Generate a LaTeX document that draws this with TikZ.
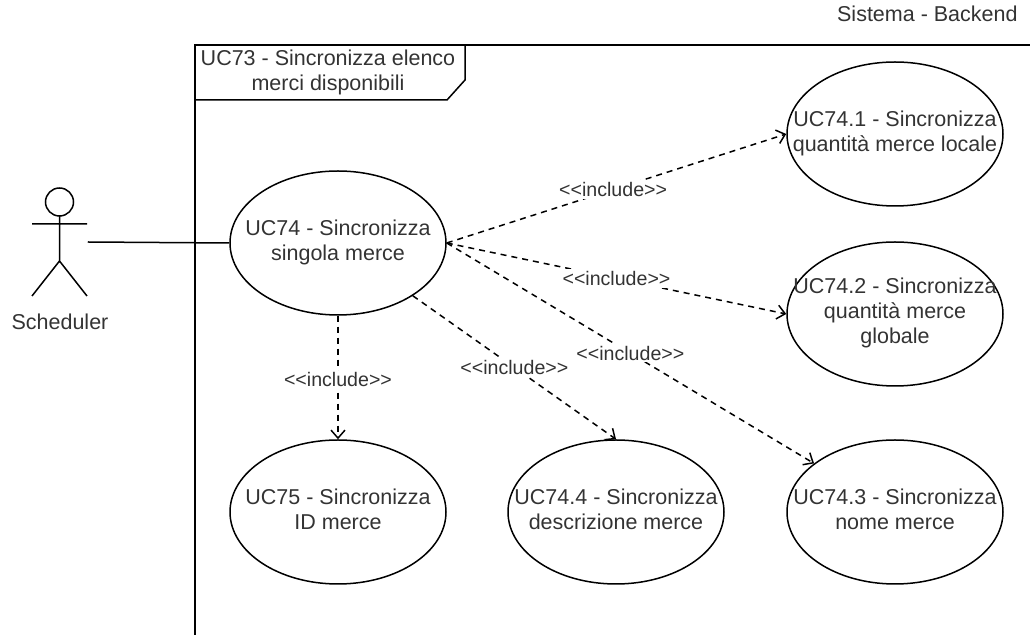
\documentclass[tikz,border=0pt]{standalone}
\usepackage{fontspec}
\setmainfont{Liberation Sans}
\usetikzlibrary{shapes.geometric, arrows.meta}

\definecolor{txtgray}{HTML}{333333}
% text that does not widen the ellipse
\newcommand{\uctext}[1]{\makebox[0pt]{\begin{tabular}{@{}c@{}}#1\end{tabular}}}
\newcommand{\incltext}{<{}<include>{}>}

\begin{document}
\begin{tikzpicture}[x=0.5pt, y=-0.5pt, line width=0.75pt,
    font=\fontsize{10.75}{12.5}\selectfont,
    usecase/.style={ellipse, draw, minimum width=108pt, minimum height=72pt,
        inner sep=0pt, text=txtgray},
    incl/.style={dashed, dash pattern=on 3pt off 2.5pt, -{Straight Barb[length=4pt, width=7pt]}},
    lbl/.style={fill=white, inner sep=1pt, text=txtgray, font=\fontsize{9.8}{11}\selectfont}]
    \useasboundingbox (0,0) rectangle (1030,635);
    \clip (0,0) rectangle (1030,635);
    % system title
    \node[anchor=east, text=txtgray] (sys) at (1025,14) {Sistema - Backend};
    % frame
    \draw (195,700) -- (195,45) -- (1040,45);
    \draw (195,100) -- (447,100) -- (465,80) -- (465,45);
    \node[align=center, text=txtgray] (frame) at (328,72) {UC73 - Sincronizza elenco\\merci disponibili};
    % actor
    \node[minimum width=27.5pt, minimum height=54pt, inner sep=0pt] (sched) at (59.5,242) {};
    \draw[shift={(sched.center)}] (0,-40) circle (7pt)
        (0,-26) -- (0,19) (-27.5,-18) -- (27.5,-18)
        (-27.5,54) -- (0,19) -- (27.5,54);
    \node[text=txtgray] (schedlbl) at (60,322) {Scheduler};
    % use cases
    \node[usecase] (uc74) at (338,243) {\uctext{UC74 - Sincronizza\\singola merce}};
    \node[usecase] (uc741) at (895,134) {\uctext{UC74.1 - Sincronizza\\quantità merce locale}};
    \node[usecase] (uc742) at (895,314) {\uctext{UC74.2 - Sincronizza\\quantità merce\\globale}};
    \node[usecase] (uc743) at (895,512) {\uctext{UC74.3 - Sincronizza\\nome merce}};
    \node[usecase] (uc744) at (616,512) {\uctext{UC74.4 - Sincronizza\\descrizione merce}};
    \node[usecase] (uc75) at (338,512) {\uctext{UC75 - Sincronizza\\ID merce}};
    % associations
    \draw (sched.east) -- (uc74.west);
    \draw[incl] (uc74.east) -- node[lbl, pos=0.49] {\incltext} (uc741.west);
    \draw[incl] (uc74.east) -- node[lbl, pos=0.5] {\incltext} (uc742.west);
    \draw[incl] (uc74.east) -- node[lbl, pos=0.5] {\incltext} (uc743);
    \draw[incl] (uc74) -- node[lbl, pos=0.5] {\incltext} (uc744.north);
    \draw[incl] (uc74.south) -- node[lbl, pos=0.52] {\incltext} (uc75.north);
\end{tikzpicture}
\end{document}
